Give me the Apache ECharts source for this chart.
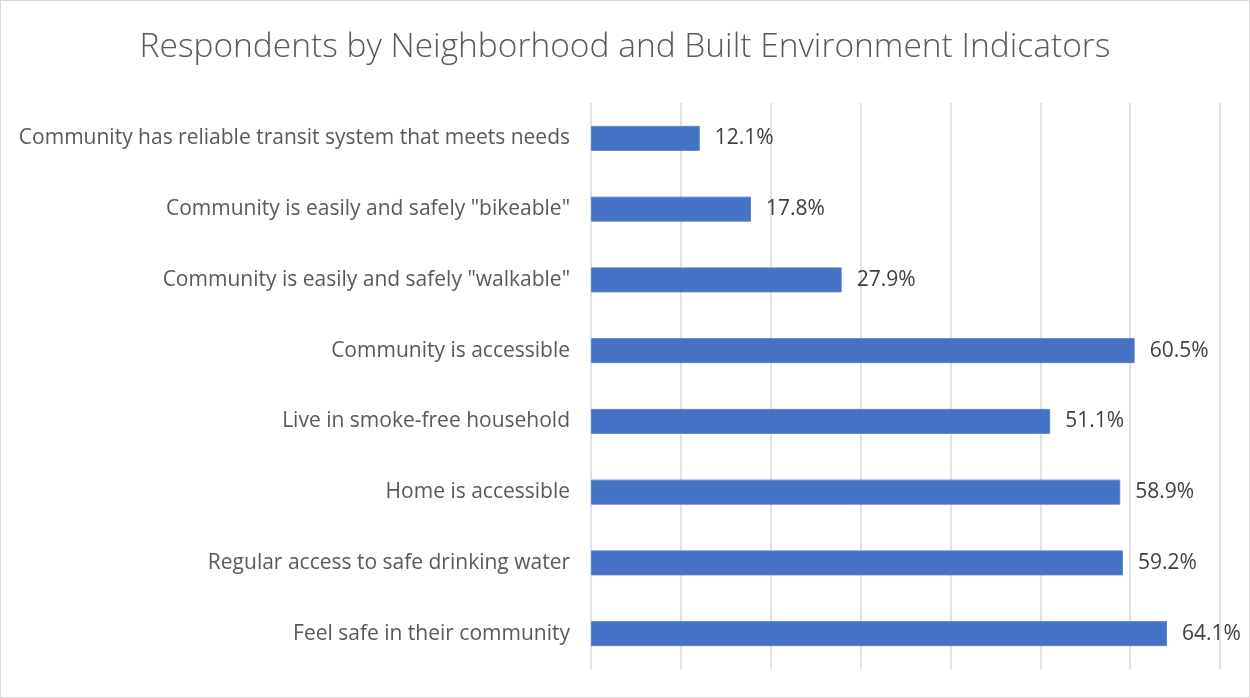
<!DOCTYPE html>
<html>
<head>
<meta charset="utf-8">
<script src="https://cdn.jsdelivr.net/npm/echarts@6/dist/echarts.min.js"></script>
<style>
  html, body { margin: 0; padding: 0; background: #fff; }
  #chart { width: 1248px; height: 696px; border: 1px solid #d9d9d9; }
</style>
</head>
<body>
<div id="chart"></div>
<script>
// Survey indicators, listed top to bottom
const categories = [
  'Community has reliable transit system that meets needs',
  'Community is easily and safely "bikeable"',
  'Community is easily and safely "walkable"',
  'Community is accessible',
  'Live in smoke-free household',
  'Home is accessible',
  'Regular access to safe drinking water',
  'Feel safe in their community'
];
// Share of respondents (%)
const percentages = [12.1, 17.8, 27.9, 60.5, 51.1, 58.9, 59.2, 64.1];

const chart = echarts.init(document.getElementById('chart'));
chart.setOption({
  animation: false,
  title: {
    text: 'Respondents by Neighborhood and Built Environment Indicators',
    left: 'center',
    top: 24,
    textStyle: {
      fontFamily: 'Open Sans',
      fontWeight: 300,
      fontSize: 33.5,
      color: '#595959'
    }
  },
  grid: { left: 590, right: 29, top: 102, bottom: 28 },
  xAxis: {
    type: 'value',
    min: 0,
    max: 70,
    interval: 10,
    axisLabel: { show: false },
    axisLine: { show: false },
    axisTick: { show: false },
    splitLine: { lineStyle: { color: '#d9d9d9', width: 1.5 } }
  },
  yAxis: {
    type: 'category',
    inverse: true,
    data: categories,
    axisLine: { show: false },
    axisTick: { show: false },
    axisLabel: {
      margin: 21,
      fontFamily: 'Open Sans',
      fontSize: 21,
      color: '#595959'
    }
  },
  series: [{
    type: 'bar',
    data: percentages,
    barWidth: 25,
    itemStyle: { color: '#4472c4', borderColor: '#5a82cc', borderWidth: 1 },
    label: {
      show: true,
      position: 'right',
      distance: 15,
      formatter: p => p.value.toFixed(1) + '%',
      fontFamily: 'Open Sans',
      fontSize: 21,
      color: '#404040'
    }
  }]
});
</script>
</body>
</html>
